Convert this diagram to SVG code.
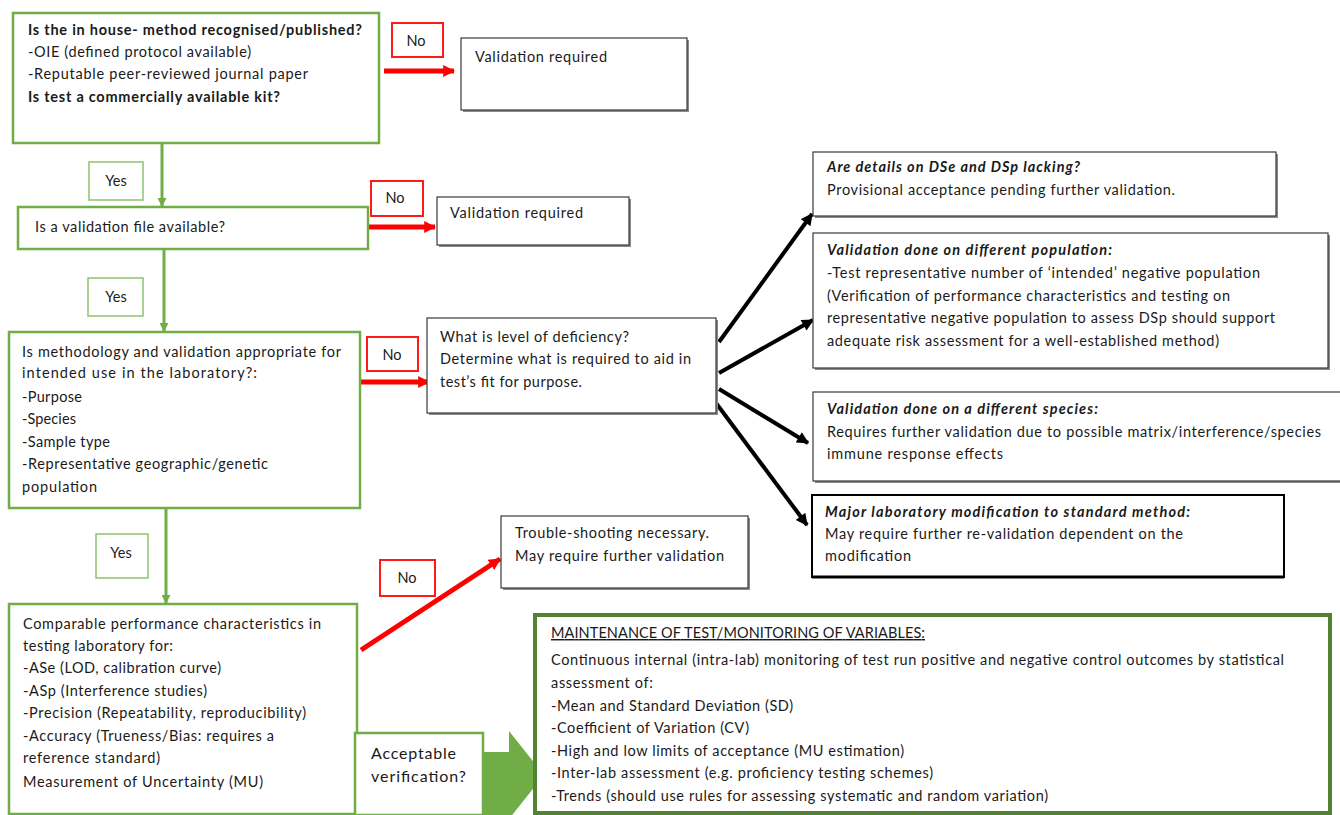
<svg xmlns="http://www.w3.org/2000/svg" width="1340" height="815" viewBox="0 0 1340 815">
<defs>
<style>
text{font-family:Lato,"Liberation Sans",sans-serif;font-size:14.5px;fill:#1a1a1a}
.b{font-weight:bold}
.bi{font-weight:bold;font-style:italic}
.g{fill:#fff;stroke:#70ad47;stroke-width:2.5}
.gy{fill:#fff;stroke:#8dc46e;stroke-width:1.5}
.r{fill:#fff;stroke:#ff1a1a;stroke-width:2}
.k{fill:#fff;stroke:#3a3a3a;stroke-width:1.2}
.sh{fill:#8a8a8a}
.m{text-anchor:middle}
.gl{stroke:#70ad47;stroke-width:3;fill:none}
.rl{stroke:#ff0000;stroke-width:5;fill:none}
.bl{stroke:#000;stroke-width:4;fill:none}
</style>
<marker id="ag" viewBox="0 0 10 10" refX="9" refY="5" markerWidth="9" markerHeight="9" markerUnits="userSpaceOnUse" orient="auto"><path d="M0,0 L10,5 L0,10 z" fill="#70ad47"/></marker>
<marker id="ar" viewBox="0 0 10 10" refX="9" refY="5" markerWidth="12" markerHeight="12" markerUnits="userSpaceOnUse" orient="auto"><path d="M0,0 L10,5 L0,10 z" fill="#ff0000"/></marker>
<marker id="ak" viewBox="0 0 10 10" refX="9" refY="5" markerWidth="13" markerHeight="12" markerUnits="userSpaceOnUse" orient="auto"><path d="M0,0 L10,5 L0,10 z" fill="#000"/></marker>
</defs>
<rect width="1340" height="815" fill="#fff"/>

<g id="connectors">
<line class="gl" x1="162" y1="143" x2="162" y2="206" marker-end="url(#ag)"/>
<line class="gl" x1="164" y1="250" x2="164" y2="331" marker-end="url(#ag)"/>
<line class="gl" x1="166" y1="508" x2="166" y2="603" marker-end="url(#ag)"/>
<line class="rl" x1="384" y1="71" x2="454" y2="71" marker-end="url(#ar)"/>
<line class="rl" x1="368" y1="227" x2="435" y2="227" marker-end="url(#ar)"/>
<line class="rl" x1="360" y1="382" x2="429" y2="382" marker-end="url(#ar)"/>
<line class="rl" x1="361" y1="650" x2="500" y2="559" marker-end="url(#ar)"/>
<line class="bl" x1="719" y1="342" x2="812" y2="214" marker-end="url(#ak)"/>
<line class="bl" x1="719" y1="373" x2="813" y2="320" marker-end="url(#ak)"/>
<line class="bl" x1="719" y1="389" x2="808" y2="443" marker-end="url(#ak)"/>
<line class="bl" x1="716" y1="403" x2="807" y2="525" marker-end="url(#ak)"/>
<polygon points="477,752 509,752 509,731 544,775 509,819 477,819 477,795" fill="#70ad47" />
</g>

<g id="q1">
<rect class="g" x="13" y="13" width="366" height="130"/>
<text class="b" x="28" y="35" textLength="334">Is the in house- method recognised/published?</text>
<text x="28" y="57" textLength="223">-OIE (defined protocol available)</text>
<text x="28" y="79" textLength="280">-Reputable peer-reviewed journal paper</text>
<text class="b" x="28" y="102" textLength="252">Is test a commercially available kit?</text>
</g>

<g id="no1"><rect class="r" x="392" y="23" width="51" height="34"/><text class="m" x="416" y="46">No</text></g>
<g id="val1"><rect class="sh" x="463" y="40" width="226" height="72"/><rect class="k" x="461" y="38" width="226" height="72"/><text x="475" y="62" textLength="132">Validation required</text></g>

<g id="yes1"><rect class="gy" x="89" y="162" width="54" height="38"/><text class="m" x="116" y="186">Yes</text></g>

<g id="q2">
<rect class="g" x="18" y="207" width="350" height="42" stroke-width="3"/>
<text x="35" y="232" textLength="190">Is a validation file available?</text>
</g>
<g id="no2"><rect class="r" x="371" y="181" width="52" height="35"/><text class="m" x="395" y="203">No</text></g>
<g id="val2"><rect class="sh" x="439" y="199" width="192" height="48"/><rect class="k" x="437" y="197" width="192" height="48"/><text x="450" y="218" textLength="133">Validation required</text></g>

<g id="yes2"><rect class="gy" x="88" y="278" width="55" height="38"/><text class="m" x="116" y="302">Yes</text></g>

<g id="q3">
<rect class="g" x="9" y="332" width="351" height="176" stroke-width="3"/>
<text x="22" y="357" textLength="319">Is methodology and validation appropriate for</text>
<text x="22" y="378" textLength="235">intended use in the laboratory?:</text>
<text x="22" y="402" textLength="60">-Purpose</text>
<text x="22" y="424" textLength="54">-Species</text>
<text x="22" y="447" textLength="88">-Sample type</text>
<text x="22" y="469" textLength="246">-Representative geographic/genetic</text>
<text x="22" y="492" textLength="75">population</text>
</g>
<g id="no3"><rect class="r" x="367" y="337" width="51" height="34"/><text class="m" x="392" y="360">No</text></g>

<g id="deficiency">
<rect class="sh" x="429" y="320" width="289" height="95"/>
<rect class="k" x="427" y="318" width="289" height="95"/>
<text x="440" y="342" textLength="189">What is level of deficiency?</text>
<text x="440" y="364" textLength="251">Determine what is required to aid in</text>
<text x="440" y="387" textLength="142">test’s fit for purpose.</text>
</g>

<g id="dse">
<rect class="sh" x="815" y="154" width="463" height="64"/>
<rect class="k" x="813" y="152" width="463" height="64"/>
<text class="bi" x="827" y="172" textLength="253">Are details on DSe and DSp lacking?</text>
<text x="827" y="195" textLength="348">Provisional acceptance pending further validation.</text>
</g>

<g id="population">
<rect class="sh" x="815" y="235" width="515" height="135"/>
<rect class="k" x="813" y="233" width="515" height="135"/>
<text class="bi" x="827" y="255" textLength="285">Validation done on different population:</text>
<text x="827" y="278" textLength="433">-Test representative number of ‘intended’ negative population</text>
<text x="827" y="301" textLength="403">(Verification of performance characteristics and testing on</text>
<text x="827" y="323" textLength="448">representative negative population to assess DSp should support</text>
<text x="827" y="346" textLength="392">adequate risk assessment for a well-established method)</text>
</g>

<g id="species">
<rect class="sh" x="815" y="394" width="530" height="89"/>
<rect class="k" x="813" y="392" width="530" height="89"/>
<text class="bi" x="827" y="414" textLength="271">Validation done on a different species:</text>
<text x="827" y="437" textLength="494">Requires further validation due to possible matrix/interference/species</text>
<text x="827" y="459" textLength="176">immune response effects</text>
</g>

<g id="modification">
<rect x="812" y="495" width="472" height="82" fill="#fff" stroke="#000" stroke-width="2"/>
<line x1="812" y1="577" x2="1284" y2="577" stroke="#000" stroke-width="3"/>
<text class="bi" x="825" y="517" textLength="365">Major laboratory modification to standard method:</text>
<text x="825" y="539" textLength="358">May require further re-validation dependent on the</text>
<text x="825" y="561" textLength="86">modification</text>
</g>

<g id="yes3"><rect class="gy" x="96" y="534" width="52" height="44"/><text class="m" x="121" y="558">Yes</text></g>

<g id="q4">
<rect class="g" x="9" y="604" width="348" height="210" stroke-width="2"/>
<text x="23" y="629" textLength="298">Comparable performance characteristics in</text>
<text x="23" y="651" textLength="150">testing laboratory for:</text>
<text x="23" y="673" textLength="198">-ASe (LOD, calibration curve)</text>
<text x="23" y="696" textLength="184">-ASp (Interference studies)</text>
<text x="23" y="718" textLength="283">-Precision (Repeatability, reproducibility)</text>
<text x="23" y="741" textLength="251">-Accuracy (Trueness/Bias: requires a</text>
<text x="23" y="763" textLength="137">reference standard)</text>
<text x="23" y="787" textLength="240">Measurement of Uncertainty (MU)</text>
</g>

<g id="no4"><rect class="r" x="380" y="560" width="55" height="36"/><text class="m" x="407" y="583">No</text></g>

<g id="trouble">
<rect class="sh" x="503" y="518" width="247" height="72"/>
<rect class="k" x="501" y="516" width="247" height="72"/>
<text x="515" y="538" textLength="194">Trouble-shooting necessary.</text>
<text x="515" y="561" textLength="209">May require further validation</text>
</g>

<g id="acceptable">
<rect class="g" x="355" y="733" width="128" height="82" stroke-width="3"/>
<text x="371" y="759" style="font-size:16px" textLength="85">Acceptable</text>
<text x="371" y="782" style="font-size:16px" textLength="95">verification?</text>
</g>

<g id="maintenance">
<rect x="535" y="615" width="795" height="198" fill="#fff" stroke="#548235" stroke-width="4"/>
<text x="551" y="638" textLength="374" text-decoration="underline">MAINTENANCE OF TEST/MONITORING OF VARIABLES:</text>
<text x="551" y="665" textLength="733">Continuous internal (intra-lab) monitoring of test run positive and negative control outcomes by statistical</text>
<text x="551" y="688" textLength="102">assessment of:</text>
<text x="551" y="711" textLength="242">-Mean and Standard Deviation (SD)</text>
<text x="551" y="733" textLength="198">-Coefficient of Variation (CV)</text>
<text x="551" y="756" textLength="353">-High and low limits of acceptance (MU estimation)</text>
<text x="551" y="778" textLength="382">-Inter-lab assessment (e.g. proficiency testing schemes)</text>
<text x="551" y="801" textLength="497">-Trends (should use rules for assessing systematic and random variation)</text>
</g>
</svg>
